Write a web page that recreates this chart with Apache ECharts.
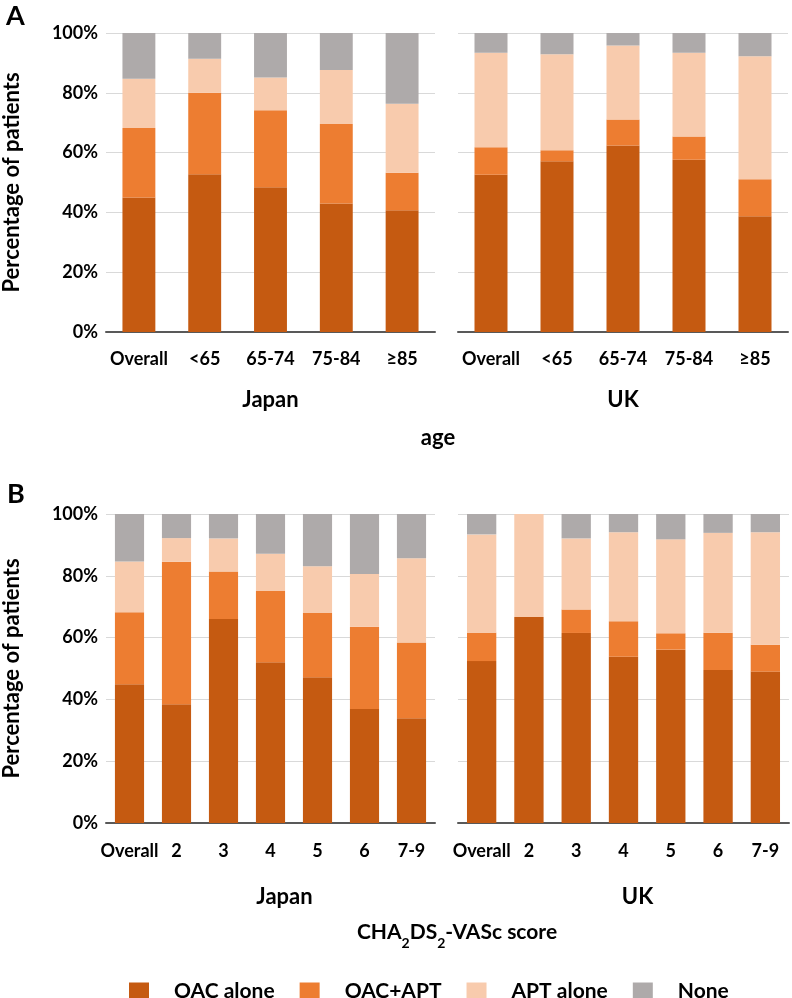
<!DOCTYPE html>
<html>
<head>
<meta charset="utf-8">
<script src="https://cdn.jsdelivr.net/npm/echarts@6/dist/echarts.min.js"></script>
<style>
  html, body { margin: 0; padding: 0; background: #fff; }
  #chart { width: 792px; height: 998px; }
</style>
</head>
<body>
<div id="chart"></div>
<script>
// treatment groups and their colours
const groupNames = ['OAC alone', 'OAC+APT', 'APT alone', 'None']
const groupColors = ['#C55A11', '#ED7D31', '#F8CBAD', '#AEAAAA']

const ageCategories = ['Overall', '<65', '65-74', '75-84', '≥85']
const scoreCategories = ['Overall', '2', '3', '4', '5', '6', '7-9']

// panel A: by age (%)
const japanAgeOac = [45.0, 52.8, 48.4, 43.0, 40.7]
const japanAgeCombo = [23.2, 27.2, 25.8, 26.6, 12.6]
const japanAgeApt = [16.5, 11.4, 10.9, 18.0, 23.0]
const japanAgeNone = [15.3, 8.6, 14.9, 12.4, 23.7]

const ukAgeOac = [52.6, 57.1, 62.4, 57.6, 38.7]
const ukAgeCombo = [9.2, 3.7, 8.7, 7.8, 12.4]
const ukAgeApt = [31.6, 32.1, 24.7, 28.0, 41.1]
const ukAgeNone = [6.6, 7.1, 4.2, 6.6, 7.8]

// panel B: by CHA2DS2-VASc score (%)
const japanScoreOac = [44.9, 38.4, 66.0, 52.0, 47.2, 36.9, 33.9]
const japanScoreCombo = [23.3, 46.1, 15.4, 23.1, 20.8, 26.6, 24.5]
const japanScoreApt = [16.4, 7.7, 10.7, 12.0, 15.1, 17.1, 27.3]
const japanScoreNone = [15.4, 7.8, 7.9, 12.9, 16.9, 19.4, 14.3]

const ukScoreOac = [52.4, 66.7, 61.5, 53.8, 56.1, 49.5, 49.0]
const ukScoreCombo = [9.2, 0, 7.6, 11.5, 5.3, 12.1, 8.7]
const ukScoreApt = [31.8, 33.3, 23.0, 28.8, 30.4, 32.3, 36.4]
const ukScoreNone = [6.6, 0, 7.9, 5.9, 8.2, 6.1, 5.9]

const FONT = 'Lato'
const boldText = (size) => ({ fontFamily: FONT, fontWeight: 'bold', fontSize: size, color: '#000' })

const panels = [
  { grid: { left: 105, top: 33, width: 330, height: 299 }, cats: ageCategories, name: 'Japan', labels: true,
    barWidth: '50%', margin: 18, nameGap: 57, namePad: 0,
    data: [japanAgeOac, japanAgeCombo, japanAgeApt, japanAgeNone] },
  { grid: { left: 458, top: 33, width: 330, height: 299 }, cats: ageCategories, name: 'UK', labels: false,
    barWidth: '50%', margin: 18, nameGap: 57, namePad: 0,
    data: [ukAgeOac, ukAgeCombo, ukAgeApt, ukAgeNone] },
  { grid: { left: 105, top: 514, width: 330, height: 309 }, cats: scoreCategories, name: 'Japan', labels: true,
    barWidth: '62%', margin: 19, nameGap: 63, namePad: 28,
    data: [japanScoreOac, japanScoreCombo, japanScoreApt, japanScoreNone] },
  { grid: { left: 458, top: 514, width: 331, height: 309 }, cats: scoreCategories, name: 'UK', labels: false,
    barWidth: '62%', margin: 19, nameGap: 63, namePad: 28,
    data: [ukScoreOac, ukScoreCombo, ukScoreApt, ukScoreNone] }
]

const grid = panels.map(p => p.grid)

const xAxis = panels.map((p, i) => ({
  type: 'category',
  gridIndex: i,
  data: p.cats,
  name: p.name,
  nameLocation: 'middle',
  nameGap: p.nameGap,
  nameTextStyle: Object.assign(boldText(22), { padding: [0, 0, 0, p.namePad] }),
  axisTick: { show: false },
  axisLine: { lineStyle: { color: '#595959', width: 2 } },
  axisLabel: Object.assign(boldText(18), { margin: p.margin, interval: 0 })
}))

const yAxis = panels.map((p, i) => ({
  type: 'value',
  gridIndex: i,
  min: 0,
  max: 100,
  interval: 20,
  name: p.labels ? 'Percentage of patients' : '',
  nameLocation: 'middle',
  nameGap: 83,
  nameTextStyle: boldText(22),
  axisLine: { show: false },
  axisTick: { show: false },
  splitLine: { lineStyle: { color: '#d9d9d9', width: 1 } },
  axisLabel: Object.assign(boldText(18), { show: p.labels, margin: 8, formatter: '{value}%' })
}))

const series = []
panels.forEach((p, i) => {
  groupNames.forEach((name, k) => {
    series.push({
      type: 'bar',
      name,
      xAxisIndex: i,
      yAxisIndex: i,
      stack: 'panel' + i,
      barWidth: p.barWidth,
      itemStyle: { color: groupColors[k] },
      emphasis: { disabled: true },
      data: p.data[k]
    })
  })
})

const option = {
  animation: false,
  color: groupColors,
  grid,
  xAxis,
  yAxis,
  series,
  legend: {
    data: groupNames,
    left: 124,
    top: 976,
    icon: 'rect',
    itemWidth: 20,
    itemHeight: 18,
    itemGap: 25,
    selectedMode: false,
    textStyle: Object.assign(boldText(21), { padding: [0, 0, 0, 20] })
  },
  graphic: [
    { type: 'text', left: 6, top: 3, style: { text: 'A', font: 'bold 27px Lato', fill: '#000' } },
    { type: 'text', left: 7, top: 481, style: { text: 'B', font: 'bold 27px Lato', fill: '#000' } },
    { type: 'text', x: 438, y: 438, style: { text: 'age', font: 'bold 22px Lato', fill: '#000', align: 'center', verticalAlign: 'middle' } },
    {
      type: 'text',
      x: 457,
      y: 922,
      style: {
        text: '{a|CHA}{s|2}{a|DS}{s|2}{a|-VASc score}',
        font: 'bold 21px Lato',
        fontFamily: FONT,
        fontWeight: 'bold',
        fill: '#000',
        align: 'center',
        verticalAlign: 'top',
        rich: {
          a: { font: 'bold 21px Lato', fontFamily: FONT, fontWeight: 'bold', fontSize: 21, lineHeight: 24, verticalAlign: 'top', fill: '#000' },
          s: { font: 'bold 14px Lato', fontFamily: FONT, fontWeight: 'bold', fontSize: 14, lineHeight: 14, padding: [14, 0, 0, 0], verticalAlign: 'top', fill: '#000' }
        }
      }
    }
  ]
}

const myChart = echarts.init(document.getElementById('chart'))
myChart.setOption(option)
</script>
</body>
</html>
